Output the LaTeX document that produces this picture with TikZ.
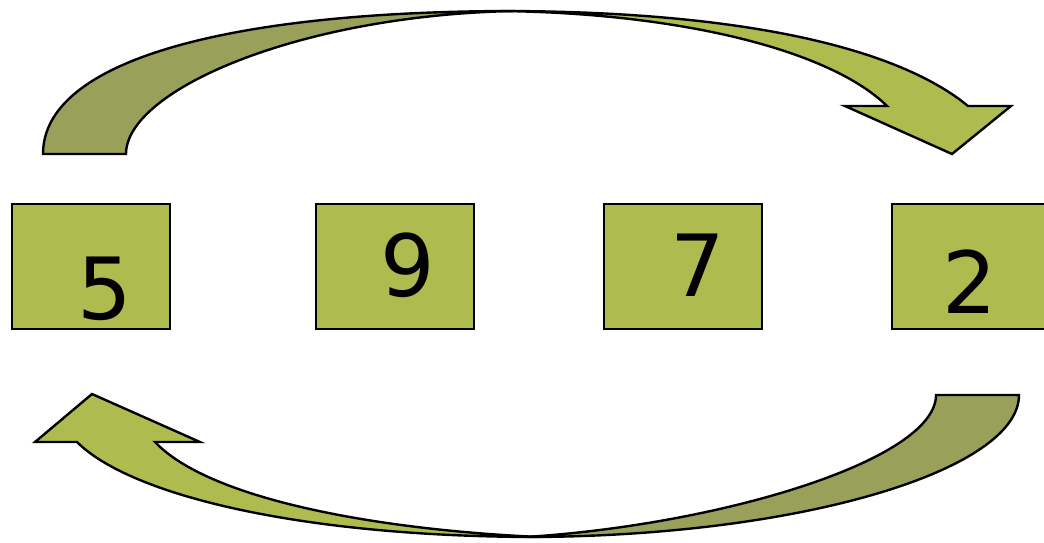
\documentclass[tikz,border=0pt]{standalone}
\usepackage{fontspec}
\setmainfont{DejaVu Sans}
\usetikzlibrary{positioning,calc}
\definecolor{ink}{HTML}{000000}
\definecolor{leaf}{HTML}{AEBB4E}
\definecolor{olive}{HTML}{98A05A}
\tikzset{
  numbox/.style={draw=ink, line width=2pt, fill=leaf, minimum width=158*0.025cm,
                 minimum height=125*0.025cm, inner sep=0pt},
  digit/.style={font=\fontsize{61}{61}\selectfont, text=ink, inner sep=0pt},
  % ---- curved arrows ----
  backband/.style={draw=ink, line width=1.7pt, fill=olive, line join=miter},
  frontband/.style={draw=ink, line width=1.7pt, fill=leaf, line join=miter},
}

\begin{document}
\begin{tikzpicture}[x=0.025cm, y=-0.025cm]
\useasboundingbox (0,0) rectangle (1044,542);
\clip (0,0) rectangle (1044,542);
  % boxes
  \node[numbox] (b5) at (91,266.5)  {};
  \node[numbox] (b9) at (395,266.5) {};
  \node[numbox] (b7) at (683,266.5) {};
  \node[numbox] (b2) at (971,266.5) {};
  \node[digit] (d5) at ([shift={(14,22)}]b5.center)  {5};
  \node[digit] (d9) at ([shift={(13,-1)}]b9.center)  {9};
  \node[digit] (d7) at ([shift={(15,-1)}]b7.center)  {7};
  \node[digit] (d2) at ([shift={(-1,15)}]b2.center)  {2};
  % upper arrow (5 -> 2)
  \draw[backband] (43,154) .. controls (43,60) and (230,11) .. (515,11)
        .. controls (300,15) and (126,90) .. (126,154) -- cycle;
  \draw[frontband] (500,11) .. controls (750,11) and (900,50) .. (968,106)
        -- (1011,106) -- (952,154) -- (845,106) -- (887,106)
        .. controls (830,50) and (680,13) .. (500,11) -- cycle;
  % lower arrow (2 -> 5)
  \draw[backband] (1019,395) .. controls (1019,470) and (800,537) .. (525,537)
        .. controls (720,525) and (936,460) .. (936,395) -- cycle;
  \draw[frontband] (540,537) .. controls (300,537) and (130,495) .. (77,442)
        -- (35,442) -- (92,394) -- (200,442) -- (155,442)
        .. controls (210,500) and (380,530) .. (540,537) -- cycle;
\end{tikzpicture}
\end{document}
